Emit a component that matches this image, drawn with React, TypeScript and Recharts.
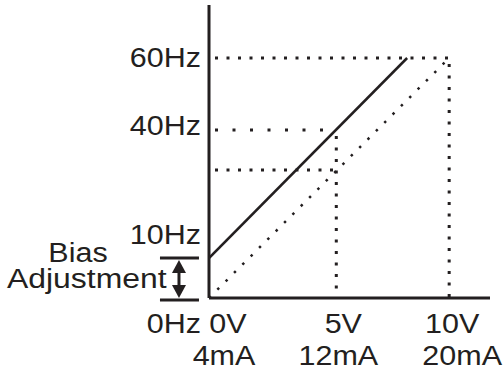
import React from "react";
import { LineChart, Line, XAxis, YAxis, ReferenceLine } from "recharts";

// values (V on x, Hz on y)
const xTicks = [0, 5.3, 10];
const xTickVolts = ["0V", "5V", "10V"];
const xTickAmps = ["4mA", "12mA", "20mA"];
const yTicks = [0, 10, 42, 60];
const yTickLabels = ["0Hz", "10Hz", "40Hz", "60Hz"];

const biasCurveV = [0, 8.25];
const biasCurveHz = [10, 60];
const baseCurveV = [0, 10];
const baseCurveHz = [0, 60];

// dotted guide segments
const guideFromV = [0, 10, 0, 5.3, 0];
const guideFromHz = [60, 60, 42, 42, 32];
const guideToV = [10, 10, 5.3, 5.3, 5.3];
const guideToHz = [60, 0, 42, 0, 32];

const biasMarkV = -1.25;

const INK = "#231f20";
const FONT = '"Liberation Sans", Arial, Helvetica, sans-serif';
const guideGaps = [8.5, 8.5, 14.5, 8.5, 8.5];

const biasCurve = biasCurveV.map((v, i) => ({ v, hz: biasCurveHz[i] }));
const baseCurve = baseCurveV.map((v, i) => ({ v, hz: baseCurveHz[i] }));

const Txt = ({ x, y, anchor = "start", size = 28, sx = 1.09, children }: any) => (
  <text
    transform={`translate(${x},${y}) scale(${sx},1)`}
    textAnchor={anchor}
    fontSize={size}
    fontFamily={FONT}
    fill={INK}
  >
    {children}
  </text>
);

const yLabelDy = [35, -14, 5, 9];
const YTick = (props: any) => {
  const { x, y, payload } = props;
  const i = yTicks.indexOf(payload.value);
  return (
    <Txt x={x} y={y + yLabelDy[i]} anchor="end">
      {yTickLabels[i]}
    </Txt>
  );
};

const line1Dx = [19, 7, 3];
const line2Dx = [15, 2, 13];
const XTick = (props: any) => {
  const { x, y, payload } = props;
  const i = xTicks.indexOf(payload.value);
  return (
    <g>
      <Txt x={x + line1Dx[i]} y={y + 35} anchor="middle">
        {xTickVolts[i]}
      </Txt>
      <Txt x={x + line2Dx[i]} y={y + 67} anchor="middle">
        {xTickAmps[i]}
      </Txt>
    </g>
  );
};

const BiasMark = (p: any) => {
  const x = p.x1;
  const top = Math.min(p.y1, p.y2);
  const bot = Math.max(p.y1, p.y2) + 2;
  return (
    <g>
      <line x1={x - 19} x2={x + 20} y1={top} y2={top} stroke={INK} strokeWidth={3} />
      <line x1={x - 19} x2={x + 20} y1={bot} y2={bot} stroke={INK} strokeWidth={3} />
      <line x1={x} x2={x} y1={top + 12} y2={bot - 12} stroke={INK} strokeWidth={3} />
      <polygon points={`${x},${top + 2} ${x - 7},${top + 15} ${x + 7},${top + 15}`} fill={INK} />
      <polygon points={`${x},${bot - 2} ${x - 7},${bot - 15} ${x + 7},${bot - 15}`} fill={INK} />
      <Txt x={x - 101} y={top + 4} anchor="middle">
        Bias
      </Txt>
      <Txt x={x - 172} y={bot - 12} sx={1.14}>
        Adjustment
      </Txt>
    </g>
  );
};

export default function App() {
  return (
    <div style={{ position: "absolute", left: 0, top: 0, width: 503, height: 371, background: "#fff" }}>
      <LineChart width={503} height={371} margin={{ top: 5, right: 13, bottom: 0, left: 0 }}>
        <XAxis
          type="number"
          dataKey="v"
          domain={[0, 11.7]}
          ticks={xTicks}
          allowDataOverflow
          height={73}
          tickSize={0}
          tickMargin={0}
          tickLine={false}
          axisLine={{ stroke: INK, strokeWidth: 3 }}
          tick={<XTick />}
        />
        <YAxis
          type="number"
          dataKey="hz"
          domain={[0, 73.25]}
          ticks={yTicks}
          allowDataOverflow
          width={209}
          tickSize={0}
          tickMargin={8}
          tickLine={false}
          axisLine={{ stroke: INK, strokeWidth: 3 }}
          tick={<YTick />}
        />
        {guideFromV.map((v, i) => (
          <ReferenceLine
            key={i}
            segment={[
              { x: v, y: guideFromHz[i] },
              { x: guideToV[i], y: guideToHz[i] },
            ]}
            stroke={INK}
            strokeWidth={3}
            strokeDasharray={`3 ${guideGaps[i]}`}
            strokeDashoffset={-6}
            ifOverflow="visible"
          />
        ))}
        <ReferenceLine
          segment={[
            { x: biasMarkV, y: 0 },
            { x: biasMarkV, y: biasCurveHz[0] },
          ]}
          ifOverflow="visible"
          shape={BiasMark}
        />
        <Line
          data={baseCurve}
          dataKey="hz"
          stroke={INK}
          strokeWidth={2.5}
          strokeDasharray="2.5 9.3"
          dot={false}
          activeDot={false}
          isAnimationActive={false}
        />
        <Line
          data={biasCurve}
          dataKey="hz"
          stroke={INK}
          strokeWidth={2.5}
          dot={false}
          activeDot={false}
          isAnimationActive={false}
        />
      </LineChart>
    </div>
  );
}
